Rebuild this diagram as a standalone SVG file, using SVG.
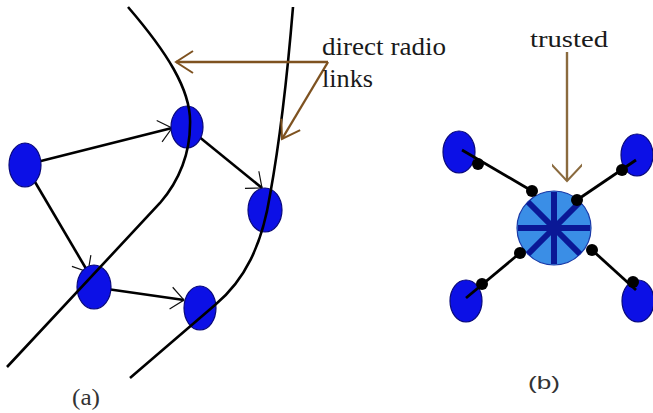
<svg xmlns="http://www.w3.org/2000/svg" width="653" height="413" viewBox="0 0 653 413">
<style>
.node{fill:#0c10e6;stroke:#08087a;stroke-width:1.2}
.edge{fill:none;stroke:#000;stroke-width:2.6}
.range{fill:none;stroke:#000;stroke-width:2.6}
.link{fill:none;stroke:#000;stroke-width:2.8}
.dot{fill:#000}
.brown{fill:none;stroke:#7e5220;stroke-width:2.4}
.tan{fill:none;stroke:#8a6a3e;stroke-width:2.4}
.lbl{font-family:"Liberation Serif","Times New Roman",serif;fill:#1a1a1a}
.cap{fill:#333}
.spoke{stroke:#0a1896;stroke-width:6}
</style>
<defs>
<marker id="ah" markerUnits="userSpaceOnUse" markerWidth="30" markerHeight="30" refX="0" refY="0" viewBox="-20 -15 25 30" orient="auto">
<path d="M-13,-11 L0,0 L-13,11" fill="none" stroke="#111" stroke-width="1.2"/>
</marker>
<marker id="bh" markerUnits="userSpaceOnUse" markerWidth="30" markerHeight="30" refX="0" refY="0" viewBox="-22 -15 26 30" orient="auto">
<path d="M-17,-11 L0,0 L-17,11" fill="none" stroke="#7e5220" stroke-width="2"/>
</marker>
<marker id="th" markerUnits="userSpaceOnUse" markerWidth="30" markerHeight="30" refX="0" refY="0" viewBox="-22 -15 26 30" orient="auto">
<path d="M-17,-16 L0,0 L-17,16" fill="none" stroke="#8a6a3e" stroke-width="2"/>
</marker>
</defs>
<rect width="653" height="413" fill="#fff"/>

<g id="connectors">
<line class="edge" x1="25" y1="165" x2="172" y2="128" marker-end="url(#ah)"/>
<line class="edge" x1="187" y1="127" x2="262" y2="188" marker-end="url(#ah)"/>
<line class="edge" x1="25" y1="165" x2="88" y2="272" marker-end="url(#ah)"/>
<line class="edge" x1="93" y1="287" x2="184" y2="300" marker-end="url(#ah)"/>
</g>

<g id="node-a1"><ellipse class="node" cx="25" cy="165" rx="16" ry="22"/></g>
<g id="node-a2"><ellipse class="node" cx="187" cy="127" rx="16" ry="21"/></g>
<g id="node-a3"><ellipse class="node" cx="265" cy="210" rx="17" ry="22"/></g>
<g id="node-a4"><ellipse class="node" cx="94" cy="287" rx="17" ry="22"/></g>
<g id="node-a5"><ellipse class="node" cx="200" cy="308" rx="16" ry="22"/></g>

<g id="ranges">
<path class="range" d="M128,7 C165,50 192,90 190,125 C190,152 180,180 160,203 L7,367"/>
<path class="range" d="M293,7 C287,80 280,140 270,195 C262,245 245,280 215,305 L130,378"/>
</g>

<g id="callouts">
<line class="brown" x1="328" y1="62" x2="176" y2="62" marker-end="url(#bh)"/>
<line class="brown" x1="328" y1="62" x2="282" y2="139" marker-end="url(#bh)"/>
<line class="tan" x1="567" y1="52" x2="567" y2="181" marker-end="url(#th)"/>
</g>

<g id="node-b-tl"><ellipse class="node" cx="459" cy="152" rx="16" ry="21"/></g>
<g id="node-b-tr"><ellipse class="node" cx="637" cy="155" rx="16" ry="21"/></g>
<g id="node-b-bl"><ellipse class="node" cx="466" cy="301" rx="16" ry="21"/></g>
<g id="node-b-br"><ellipse class="node" cx="638" cy="301" rx="16" ry="21"/></g>

<g id="links-b">
<line class="link" x1="462" y1="150" x2="532" y2="191"/>
<line class="link" x1="636" y1="160" x2="577" y2="200"/>
<line class="link" x1="466" y1="298" x2="520" y2="253"/>
<line class="link" x1="592" y1="250" x2="636" y2="290"/>
</g>

<g id="node-b-center">
<circle cx="554" cy="228" r="37" fill="#3a8ee6" stroke="#1a3aa8" stroke-width="1.2"/>
<line class="spoke" x1="554" y1="192" x2="554" y2="264"/>
<line class="spoke" x1="518" y1="228" x2="590" y2="228"/>
<line class="spoke" x1="528" y1="202" x2="580" y2="254"/>
<line class="spoke" x1="580" y1="202" x2="528" y2="254"/>
</g>

<g id="dots">
<circle class="dot" cx="478" cy="164" r="6"/>
<circle class="dot" cx="532" cy="191" r="6"/>
<circle class="dot" cx="622" cy="170" r="6"/>
<circle class="dot" cx="577" cy="200" r="6"/>
<circle class="dot" cx="482" cy="284" r="6"/>
<circle class="dot" cx="520" cy="253" r="6"/>
<circle class="dot" cx="592" cy="250" r="6"/>
<circle class="dot" cx="633" cy="282" r="6"/>
</g>

<g id="labels">
<text class="lbl" x="322" y="55" font-size="25" textLength="124" lengthAdjust="spacingAndGlyphs">direct radio</text>
<text class="lbl" x="322" y="87" font-size="25" textLength="51" lengthAdjust="spacingAndGlyphs">links</text>
<text class="lbl" x="530" y="47" font-size="24" textLength="78" lengthAdjust="spacingAndGlyphs">trusted</text>
<text class="lbl cap" x="72" y="405" font-size="23" textLength="28" lengthAdjust="spacingAndGlyphs">(a)</text>
<text class="cap" x="528" y="389" font-size="19" font-family="Liberation Sans, Arial, sans-serif" textLength="32" lengthAdjust="spacingAndGlyphs">(b)</text>
</g>
</svg>
